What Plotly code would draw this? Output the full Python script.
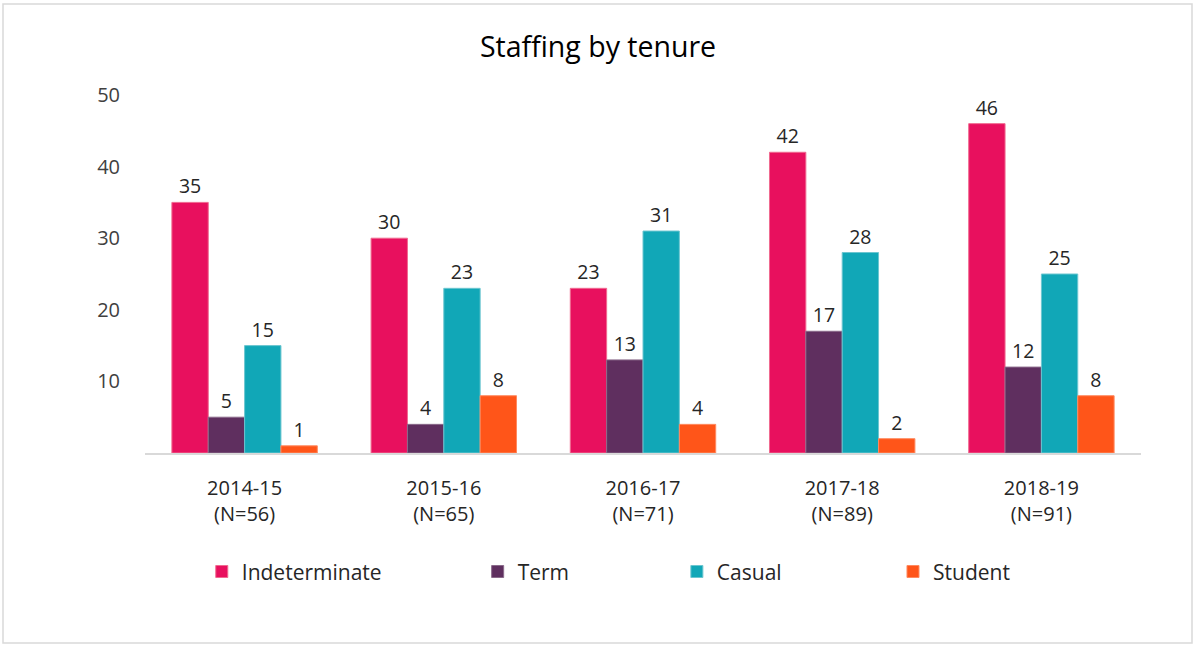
import plotly.graph_objects as go

years = ["2014-15", "2015-16", "2016-17", "2017-18", "2018-19"]
totals = [56, 65, 71, 89, 91]
series_names = ["Indeterminate", "Term", "Casual", "Student"]
indeterminate = [35, 30, 23, 42, 46]
term = [5, 4, 13, 17, 12]
casual = [15, 23, 31, 28, 25]
student = [1, 8, 4, 2, 8]
yticks = [10, 20, 30, 40, 50]

categories = [f"{y}<br>(N={n})" for y, n in zip(years, totals)]
values = [indeterminate, term, casual, student]
colors = ["#E8105E", "#5F2F5F", "#11A7B7", "#FF5519"]
line_colors = ["#F06A90", "#8A6A8A", "#6CC6D0", "#FF8A60"]
legend_x = [0.057, 0.334, 0.534, 0.751]

FONT = "Segoe UI, Open Sans, sans-serif"

fig = go.Figure()
for i, (name, vals) in enumerate(zip(series_names, values)):
    fig.add_trace(go.Bar(
        x=categories, y=vals, name=name,
        marker=dict(color=colors[i], line=dict(color=line_colors[i], width=1)),
        text=[str(v) for v in vals], textposition="outside",
        textfont=dict(size=19.5, color="#262626", family=FONT),
        cliponaxis=False,
        legend="legend" if i == 0 else f"legend{i+1}",
    ))

legend_common = dict(orientation="h", yanchor="middle", y=-0.332, xanchor="left",
                     font=dict(size=21, color="#262626", family=FONT),
                     bgcolor="rgba(0,0,0,0)")
layout_legends = {}
for i in range(4):
    key = "legend" if i == 0 else f"legend{i+1}"
    layout_legends[key] = dict(legend_common, x=legend_x[i])

fig.update_layout(
    width=1196, height=649,
    margin=dict(l=145, r=55, t=95, b=196),
    paper_bgcolor="white", plot_bgcolor="white",
    title=dict(text="Staffing by tenure", x=0.5, xanchor="center", y=0.927, yanchor="middle",
               font=dict(size=28.5, color="#000000", family=FONT)),
    barmode="group", bargap=0.27, bargroupgap=0,
    showlegend=True,
    font=dict(family=FONT, color="#404040"),
    xaxis=dict(showgrid=False, showline=True, linecolor="#D9D9D9", linewidth=2,
               ticks="", tickfont=dict(size=20, color="#262626", family=FONT),
               ticklabelstandoff=16),
    yaxis=dict(range=[0, 50], tickvals=yticks, showgrid=False, showline=False, zeroline=False,
               ticks="", tickfont=dict(size=20, color="#404040", family=FONT), ticklabelstandoff=24),
    shapes=[dict(type="rect", xref="paper", yref="paper",
                 x0=(3-145)/996, x1=(1192-145)/996, y0=(453-643)/358, y1=(453-4)/358,
                 line=dict(color="#D9D9D9", width=1.5), fillcolor="rgba(0,0,0,0)", layer="below")],
    **layout_legends,
)

fig.write_html("out.html", config={"displayModeBar": False},
               post_script="document.body.style.margin='0';")
